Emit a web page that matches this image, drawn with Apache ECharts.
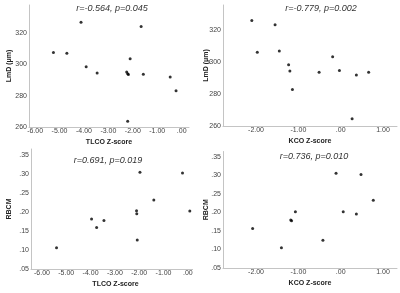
<!DOCTYPE html>
<html>
<head>
<meta charset="utf-8">
<script src="https://cdn.jsdelivr.net/npm/echarts@6/dist/echarts.min.js"></script>
<style>
  html, body { margin: 0; padding: 0; background: #fff; }
  .wrap { position: relative; width: 400px; height: 293px; overflow: hidden; }
  .panel { position: absolute; }
</style>
</head>
<body>
<div class="wrap">
  <div id="tl" class="panel" style="left:0;top:0;width:200px;height:146px"></div>
  <div id="tr" class="panel" style="left:200px;top:0;width:200px;height:146px"></div>
  <div id="bl" class="panel" style="left:0;top:146px;width:193px;height:147px"></div>
  <div id="br" class="panel" style="left:200px;top:146px;width:200px;height:147px"></div>
</div>
<script>
// tick labels
const lmdTicks = [260, 280, 300, 320]
const rbcmTicks = [0.05, 0.10, 0.15, 0.20, 0.25, 0.30, 0.35]
const tlcoTicks = [-6, -5, -4, -3, -2, -1, 0]
const kcoTicks = [-2, -1, 0, 1]

// LmD vs TLCO Z-score
const tlcoA = [-5.25, -4.70, -4.12, -3.91, -3.46, -2.25, -2.21, -2.18, -2.11, -2.21, -1.66, -1.57, -0.47, -0.23]
const lmdA = [307.6, 307.2, 327.0, 298.6, 294.6, 295.2, 294.1, 293.5, 303.7, 263.6, 324.3, 293.7, 292.0, 283.2]

// LmD vs KCO Z-score
const kcoB = [-2.10, -1.97, -1.55, -1.45, -1.23, -1.20, -1.14, -0.51, -0.19, -0.03, 0.27, 0.37, 0.66]
const lmdB = [326.3, 306.3, 323.6, 307.1, 298.5, 294.6, 283.0, 293.8, 303.5, 294.8, 264.6, 292.0, 293.8]

// RBCM vs TLCO Z-score
const tlcoC = [-5.40, -3.96, -3.75, -3.45, -2.11, -2.10, -2.08, -1.97, -1.40, -0.22, 0.08]
const rbcmC = [0.106, 0.181, 0.159, 0.177, 0.203, 0.195, 0.126, 0.304, 0.231, 0.302, 0.202]

// RBCM vs KCO Z-score
const kcoD = [-2.08, -1.40, -1.18, -1.16, -1.07, -0.42, -0.11, 0.06, 0.37, 0.48, 0.77]
const rbcmD = [0.157, 0.105, 0.180, 0.178, 0.202, 0.125, 0.306, 0.202, 0.196, 0.303, 0.233]

// SPSS style numbers: ".00", "-6.00", ".35"
function spss (v) {
  let s = Math.abs(v).toFixed(2).replace(/^0/, '')
  return (v < 0 ? '-' : '') + s
}

const FONT = '"Liberation Sans", Arial, sans-serif'
const AXIS_COLOR = '#c4c4c4'

function drawPanel (id, p) {
  let chart = echarts.init(document.getElementById(id), null, { renderer: 'canvas' })
  let data = p.x.map((v, i) => [v, p.y[i]])
  chart.setOption({
    animation: false,
    grid: Object.assign({ outerBoundsMode: 'none', containLabel: false }, p.grid),
    graphic: [{
      type: 'text',
      x: p.titlePos[0],
      y: p.titlePos[1],
      style: {
        text: p.title,
        font: 'italic 9px ' + FONT,
        fill: '#333',
        textAlign: 'center',
        textVerticalAlign: 'middle'
      }
    }],
    xAxis: {
      type: 'value',
      min: p.xRange[0],
      max: p.xRange[1],
      name: p.xName,
      nameLocation: 'middle',
      nameGap: 12,
      nameMoveOverlap: false,
      nameTextStyle: { fontFamily: FONT, fontSize: 7, fontWeight: 'bold', color: '#222' },
      splitLine: { show: false },
      axisTick: { show: false },
      axisLine: { onZero: false, lineStyle: { color: AXIS_COLOR, width: 1 } },
      axisLabel: {
        customValues: p.xTicks,
        formatter: spss,
        margin: 1,
        fontFamily: FONT,
        fontSize: 7,
        color: '#444'
      }
    },
    yAxis: {
      type: 'value',
      min: p.yRange[0],
      max: p.yRange[1],
      name: p.yName,
      nameLocation: 'middle',
      nameGap: p.yNameGap,
      nameMoveOverlap: false,
      nameTextStyle: { fontFamily: FONT, fontSize: 7, fontWeight: 'bold', color: '#222' },
      splitLine: { show: false },
      axisTick: { show: false },
      axisLine: { show: true, onZero: false, lineStyle: { color: AXIS_COLOR, width: 1 } },
      axisLabel: {
        customValues: p.yTicks,
        formatter: p.yFmt,
        margin: 2,
        fontFamily: FONT,
        fontSize: 7,
        color: '#444'
      }
    },
    series: [{
      type: 'scatter',
      data: data,
      symbol: 'circle',
      symbolSize: 3,
      itemStyle: { color: '#000' },
      silent: true
    }]
  })
}

drawPanel('tl', {
  grid: { left: 29, top: 5, width: 160, height: 122 },
  title: 'r=-0.564, p=0.045',
  titlePos: [112, 8],
  x: tlcoA, y: lmdA,
  xRange: [-6.25, 0.3], yRange: [260, 338],
  xTicks: tlcoTicks, yTicks: lmdTicks,
  xName: 'TLCO Z-score', yName: 'LmD (μm)', yNameGap: 16,
  yFmt: v => String(v)
})

drawPanel('tr', {
  grid: { left: 23, top: 5, width: 174, height: 121 },
  title: 'r=-0.779, p=0.002',
  titlePos: [121, 8],
  x: kcoB, y: lmdB,
  xRange: [-2.78, 1.33], yRange: [260, 336],
  xTicks: kcoTicks, yTicks: lmdTicks,
  xName: 'KCO Z-score', yName: 'LmD (μm)', yNameGap: 13,
  yFmt: v => String(v)
})

drawPanel('bl', {
  grid: { left: 31, top: 3, width: 169, height: 120 },
  title: 'r=0.691, p=0.019',
  titlePos: [108, 14],
  x: tlcoC, y: rbcmC,
  xRange: [-6.45, 0.5], yRange: [0.05, 0.365],
  xTicks: tlcoTicks, yTicks: rbcmTicks,
  xName: 'TLCO Z-score', yName: 'RBCM', yNameGap: 18,
  yFmt: spss
})

drawPanel('br', {
  grid: { left: 23, top: 5.5, width: 174, height: 116.5 },
  title: 'r=0.736, p=0.010',
  titlePos: [114, 10],
  x: kcoD, y: rbcmD,
  xRange: [-2.78, 1.33], yRange: [0.05, 0.365],
  xTicks: kcoTicks, yTicks: rbcmTicks,
  xName: 'KCO Z-score', yName: 'RBCM', yNameGap: 13,
  yFmt: spss
})
</script>
</body>
</html>
